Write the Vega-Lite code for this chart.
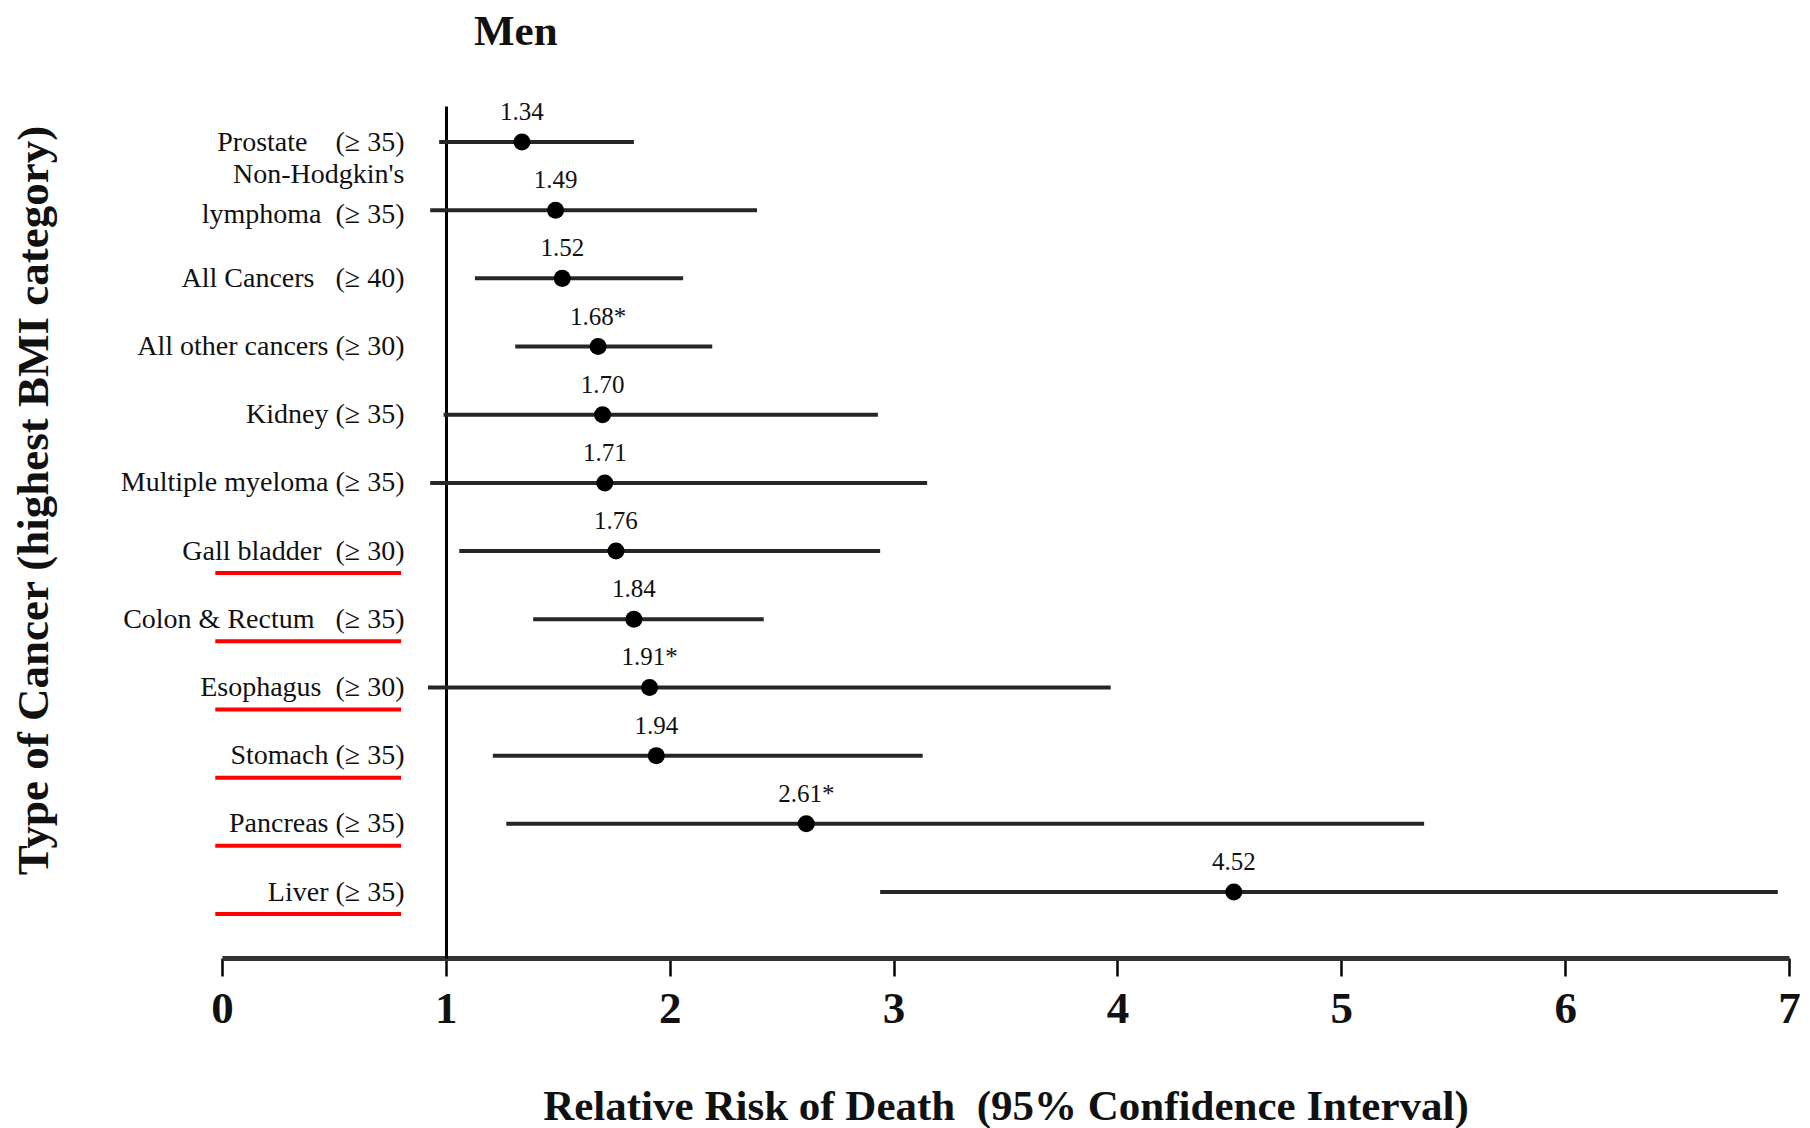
{
  "$schema": "https://vega.github.io/schema/vega-lite/v6.json",
  "autosize": {"type": "none"},
  "width": 1567,
  "height": 852,
  "padding": {"left": 222, "top": 106, "right": 21, "bottom": 170},
  "background": "white",
  "title": {
    "text": "Men",
    "anchor": "start",
    "frame": "group",
    "dx": 252,
    "offset": 46,
    "font": "Liberation Serif",
    "fontSize": 43,
    "fontWeight": "bold",
    "color": "#111111"
  },
  "data": {
    "values": [
      {"cancer": "Prostate\u00a0\u00a0\u00a0\u00a0(≥ 35)", "rr": 1.34, "lo": 0.97, "hi": 1.84, "rr_label": "1.34", "underlined": false},
      {"cancer": "Non-Hodgkin's\nlymphoma\u00a0\u00a0(≥ 35)", "rr": 1.49, "lo": 0.93, "hi": 2.39, "rr_label": "1.49", "underlined": false},
      {"cancer": "All Cancers\u00a0\u00a0\u00a0(≥ 40)", "rr": 1.52, "lo": 1.13, "hi": 2.06, "rr_label": "1.52", "underlined": false},
      {"cancer": "All other cancers (≥ 30)", "rr": 1.68, "lo": 1.31, "hi": 2.19, "rr_label": "1.68*", "underlined": false},
      {"cancer": "Kidney (≥ 35)", "rr": 1.70, "lo": 0.99, "hi": 2.93, "rr_label": "1.70", "underlined": false},
      {"cancer": "Multiple myeloma (≥ 35)", "rr": 1.71, "lo": 0.93, "hi": 3.15, "rr_label": "1.71", "underlined": false},
      {"cancer": "Gall bladder\u00a0\u00a0(≥ 30)", "rr": 1.76, "lo": 1.06, "hi": 2.94, "rr_label": "1.76", "underlined": true},
      {"cancer": "Colon & Rectum\u00a0\u00a0\u00a0(≥ 35)", "rr": 1.84, "lo": 1.39, "hi": 2.42, "rr_label": "1.84", "underlined": true},
      {"cancer": "Esophagus\u00a0\u00a0(≥ 30)", "rr": 1.91, "lo": 0.92, "hi": 3.97, "rr_label": "1.91*", "underlined": true},
      {"cancer": "Stomach (≥ 35)", "rr": 1.94, "lo": 1.21, "hi": 3.13, "rr_label": "1.94", "underlined": true},
      {"cancer": "Pancreas (≥ 35)", "rr": 2.61, "lo": 1.27, "hi": 5.37, "rr_label": "2.61*", "underlined": true},
      {"cancer": "Liver (≥ 35)", "rr": 4.52, "lo": 2.94, "hi": 6.95, "rr_label": "4.52", "underlined": true}
    ]
  },
  "encoding": {
    "y": {
      "field": "cancer",
      "type": "nominal",
      "sort": null,
      "scale": {"type": "point", "padding": 0.748, "align": 0.353},
      "axis": {
        "title": "Type of Cancer (highest BMI category)",
        "offset": -224,
        "domain": true,
        "domainColor": "#000000",
        "domainWidth": 3,
        "ticks": false,
        "grid": false,
        "labelPadding": 42,
        "labelLimit": 500,
        "labelFont": "Liberation Serif",
        "labelFontSize": 28,
        "labelColor": "#111111",
        "labelLineHeight": 40,
        "labelOffset": {"condition": {"test": "indexof(datum.value, 'Hodgkin') >= 0", "value": -36}, "value": 0},
        "labelExpr": "split(datum.label, '\\n')",
        "titleFont": "Liberation Serif",
        "titleFontSize": 45,
        "titleFontWeight": "bold",
        "titleColor": "#111111",
        "titleAngle": -90,
        "titleX": -413,
        "titleY": 394,
        "titleAlign": "center",
        "titleBaseline": "middle"
      }
    }
  },
  "layer": [
    {
      "mark": {"type": "rule", "color": "#262626", "strokeWidth": 4},
      "encoding": {
        "x": {
          "field": "lo",
          "type": "quantitative",
          "scale": {"domain": [0, 7], "nice": false, "zero": false},
          "axis": {
            "title": "Relative Risk of Death\u00a0\u00a0(95% Confidence Interval)",
            "values": [0, 1, 2, 3, 4, 5, 6, 7],
            "format": "d",
            "grid": false,
            "domainColor": "#333333",
            "domainWidth": 5,
            "tickColor": "#000000",
            "tickSize": 18,
            "tickWidth": 2.5,
            "labelFont": "Liberation Serif",
            "labelFontSize": 45,
            "labelFontWeight": "bold",
            "labelColor": "#111111",
            "labelPadding": 10,
            "labelFlush": false,
            "titleFont": "Liberation Serif",
            "titleFontSize": 43,
            "titleFontWeight": "bold",
            "titleColor": "#111111",
            "titleY": 148,
            "titleBaseline": "middle"
          }
        },
        "x2": {"field": "hi"}
      }
    },
    {
      "mark": {"type": "point", "filled": true, "color": "#000000", "size": 290, "opacity": 1},
      "encoding": {
        "x": {"field": "rr", "type": "quantitative"}
      }
    },
    {
      "mark": {"type": "text", "font": "Liberation Serif", "fontSize": 25, "color": "#111111", "align": "center", "baseline": "middle", "dy": -30},
      "encoding": {
        "x": {"field": "rr", "type": "quantitative"},
        "text": {"field": "rr_label"}
      }
    },
    {
      "transform": [{"filter": "datum.underlined"}],
      "mark": {"type": "rule", "color": "#ff0000", "strokeWidth": 4, "yOffset": 22, "clip": false},
      "encoding": {
        "x": {"datum": -0.03},
        "x2": {"datum": 0.80}
      }
    }
  ],
  "config": {
    "view": {"stroke": null}
  }
}
